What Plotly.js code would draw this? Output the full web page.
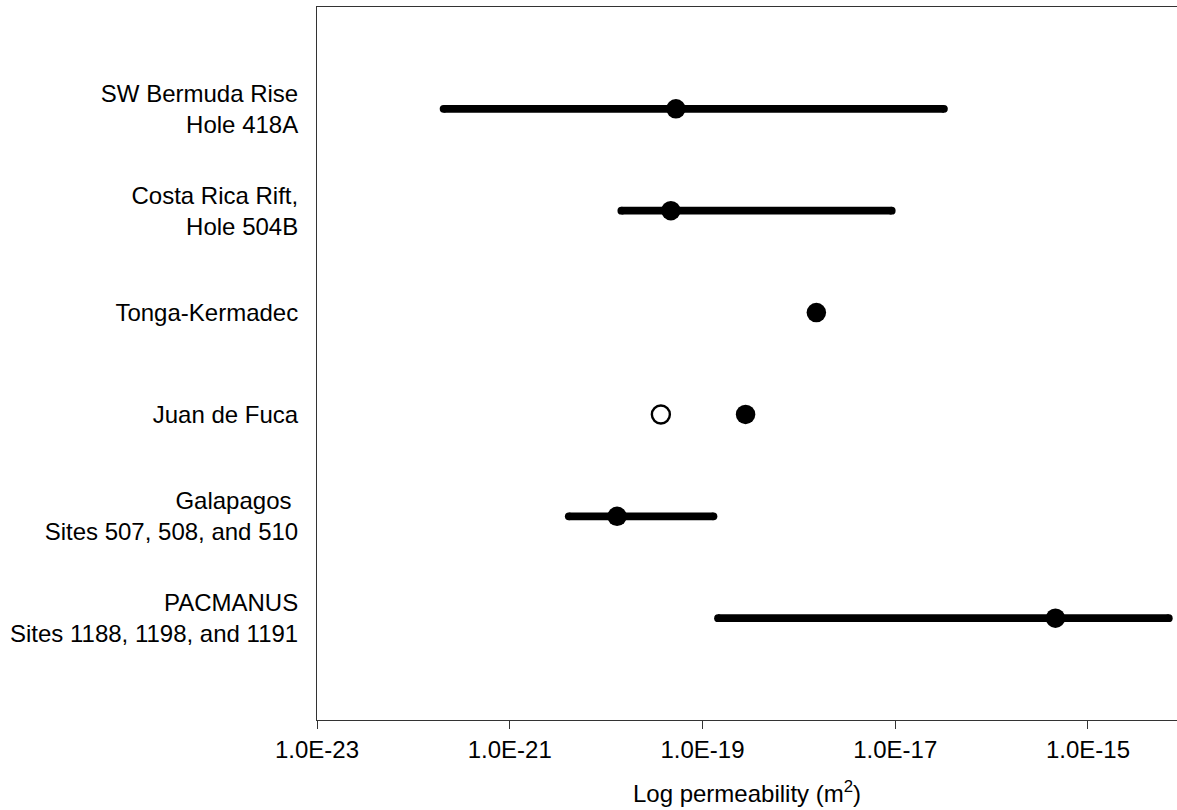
<!DOCTYPE html>
<html>
<head>
<meta charset="utf-8">
<script src="https://cdn.plot.ly/plotly-3.0.1.min.js"></script>
<style>html,body{margin:0;padding:0;background:#fff;}#chart{width:1177px;height:810px;}</style>
</head>
<body>
<div id="chart"></div>
<script>
// Category rows (bottom = 1, top = 6)
var rowPositions = [6, 5, 4, 3, 2, 1];
var rowLabels = [
  "SW Bermuda Rise<br>Hole 418A",
  "Costa Rica Rift,<br>Hole 504B",
  "Tonga-Kermadec",
  "Juan de Fuca",
  "Galapagos\u00A0<br>Sites 507, 508, and 510",
  "PACMANUS<br>Sites 1188, 1198, and 1191"
];

// Permeability ranges (m^2) for rows that have them
var rangeRows = [6, 5, 2, 1];
var rangeLow  = [2.06e-22, 1.44e-20, 4.1e-21, 1.45e-19];
var rangeHigh = [3.2e-17, 9.2e-18, 1.3e-19, 6.9e-15];

// Representative (filled) values
var pointRows   = [6, 5, 4, 3, 2, 1];
var pointValues = [5.3e-20, 4.7e-20, 1.52e-18, 2.8e-19, 1.3e-20, 4.6e-16];

// Open-circle value (Juan de Fuca)
var openRows   = [3];
var openValues = [3.7e-20];

// X tick labels
var xTickVals = [1e-23, 1e-21, 1e-19, 1e-17, 1e-15];
var xTickText = ["1.0E-23", "1.0E-21", "1.0E-19", "1.0E-17", "1.0E-15"];

var FONT = "Liberation Sans, Arial, sans-serif";
var FS = 24;
var traces = [];
for (var i = 0; i < rangeRows.length; i++) {
  traces.push({
    type: "scatter", mode: "lines+markers",
    x: [rangeLow[i], rangeHigh[i]],
    y: [rangeRows[i], rangeRows[i]],
    line: {color: "#000", width: 7.8},
    marker: {color: "#000", size: 7.8},
    hoverinfo: "skip", showlegend: false
  });
}
traces.push({
  type: "scatter", mode: "markers",
  x: pointValues, y: pointRows,
  marker: {color: "#000", size: 19.5},
  showlegend: false
});
traces.push({
  type: "scatter", mode: "markers",
  x: openValues, y: openRows,
  marker: {color: "#fff", size: 18, line: {color: "#000", width: 2.4}},
  showlegend: false
});

var layout = {
  width: 1177, height: 810,
  margin: {l: 317, r: 0, t: 7, b: 90, pad: 0},
  paper_bgcolor: "#fff", plot_bgcolor: "#fff",
  font: {family: FONT, size: FS, color: "#000"},
  showlegend: false,
  xaxis: {
    type: "log",
    range: [-23, -14.076],
    tickvals: xTickVals, ticktext: xTickText,
    ticks: "outside", ticklen: 8, tickwidth: 1, tickcolor: "#333",
    showline: true, linecolor: "#333", linewidth: 1, mirror: true,
    showgrid: false, zeroline: false,
    tickfont: {family: FONT, size: FS, color: "#000"},
    title: {text: "Log permeability (m<sup>2</sup>)", font: {family: FONT, size: FS, color: "#000"}, standoff: 23}
  },
  yaxis: {
    range: [0, 7],
    tickvals: rowPositions, ticktext: rowLabels,
    ticks: "", showline: true, linecolor: "#333", linewidth: 1, mirror: false,
    showgrid: false, zeroline: false,
    ticklabelstandoff: 13,
    tickfont: {family: FONT, size: FS, color: "#000"}
  }
};

Plotly.newPlot("chart", traces, layout, {displayModeBar: false, staticPlot: true});
</script>
</body>
</html>
